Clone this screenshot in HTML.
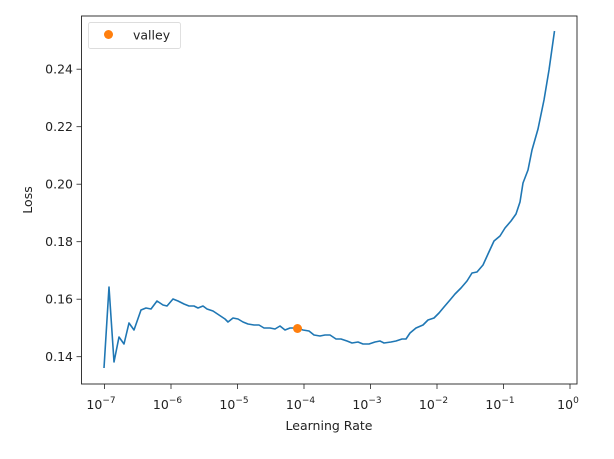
<!DOCTYPE html>
<html><head><meta charset="utf-8"><style>
html,body{margin:0;padding:0;background:#fff;}
svg text{font-family:"DejaVu Sans","Liberation Sans",sans-serif;font-size:12.5px;fill:#222;}
</style></head><body>
<svg width="614" height="454" viewBox="0 0 614 454" xmlns="http://www.w3.org/2000/svg">
<rect width="614" height="454" fill="#fff"/>
<g id="minor" stroke="#222" stroke-width="0.8"></g>
<g stroke="#222" stroke-width="0.8">
 <line x1="104.5" y1="384" x2="104.5" y2="389"/>
 <line x1="171" y1="384" x2="171" y2="389"/>
 <line x1="237.5" y1="384" x2="237.5" y2="389"/>
 <line x1="304" y1="384" x2="304" y2="389"/>
 <line x1="370.5" y1="384" x2="370.5" y2="389"/>
 <line x1="437" y1="384" x2="437" y2="389"/>
 <line x1="503.5" y1="384" x2="503.5" y2="389"/>
 <line x1="570" y1="384" x2="570" y2="389"/>
 <line x1="76.5" y1="356.7" x2="81.5" y2="356.7"/>
 <line x1="76.5" y1="299.2" x2="81.5" y2="299.2"/>
 <line x1="76.5" y1="241.7" x2="81.5" y2="241.7"/>
 <line x1="76.5" y1="184.2" x2="81.5" y2="184.2"/>
 <line x1="76.5" y1="126.7" x2="81.5" y2="126.7"/>
 <line x1="76.5" y1="69.2" x2="81.5" y2="69.2"/>
</g>
<script>
(function(){var g=document.getElementById('minor');var s='';
for(var d=-8;d<=0;d++){for(var m=2;m<=9;m++){var x=104.5+66.5*(d+7+Math.log10(m));if(x>81.5&&x<577)s+='<line x1="'+x+'" y1="384" x2="'+x+'" y2="387"/>';}}
g.innerHTML=s;})();
</script>
<g text-anchor="end">
 <text x="73" y="361">0.14</text>
 <text x="73" y="303.5">0.16</text>
 <text x="73" y="246">0.18</text>
 <text x="73" y="188.5">0.20</text>
 <text x="73" y="131">0.22</text>
 <text x="73" y="73.5">0.24</text>
</g>
<g text-anchor="middle">
 <text x="101" y="409">10<tspan dy="-6" font-size="9">−7</tspan></text>
 <text x="167.5" y="409">10<tspan dy="-6" font-size="9">−6</tspan></text>
 <text x="234" y="409">10<tspan dy="-6" font-size="9">−5</tspan></text>
 <text x="300.5" y="409">10<tspan dy="-6" font-size="9">−4</tspan></text>
 <text x="367" y="409">10<tspan dy="-6" font-size="9">−3</tspan></text>
 <text x="433.5" y="409">10<tspan dy="-6" font-size="9">−2</tspan></text>
 <text x="500" y="409">10<tspan dy="-6" font-size="9">−1</tspan></text>
 <text x="568" y="409">10<tspan dy="-6" font-size="9">0</tspan></text>
 <text x="329" y="430">Learning Rate</text>
 <text x="0" y="0" transform="translate(32,200) rotate(-90)">Loss</text>
</g>
<polyline fill="none" stroke="#1f77b4" stroke-width="1.6" stroke-linejoin="round" points="104,368 109,287 114,362 119,337 124,344 129,323 134,330 141,310 146,308 151,309 157,301 163,305 167,306 173,299 178,301 184,304 189,306 194,306 198,308 203,306 207,309 213,311 219,315 225,319 228,322 233,318 238,319 243,322 248,324 254,325 259,325 264,328 270,328 275,329 280,326 285,330 290,328 297,328 303,330 309,331 314,335 320,336 325,335 330,335 336,339 341,339 347,341 352,343 358,342 363,344 369,344 375,342 380,341 384,343 391,342 396,341 402,339 406,339 410,333 416,328 423,325 428,320 434,318 439,313 444,307 450,300 455,294 461,288 467,281 472,273 477,272 483,265 488,254 494,241 500,236 505,228 511,221 516,214 520,202 523,183 528,170 532,150 538,129 544,100 549,70 554.5,31"/>
<circle cx="297.5" cy="328.5" r="4.5" fill="#ff7f0e"/>
<rect x="81.5" y="16" width="495.5" height="368" fill="none" stroke="#222" stroke-width="0.9"/>
<rect x="88.5" y="22.5" width="92" height="26" rx="2" fill="#fff" stroke="#ddd" stroke-width="0.9"/>
<circle cx="108.5" cy="34.5" r="4.5" fill="#ff7f0e"/>
<text x="133" y="39.5">valley</text>
</svg>
</body></html>
